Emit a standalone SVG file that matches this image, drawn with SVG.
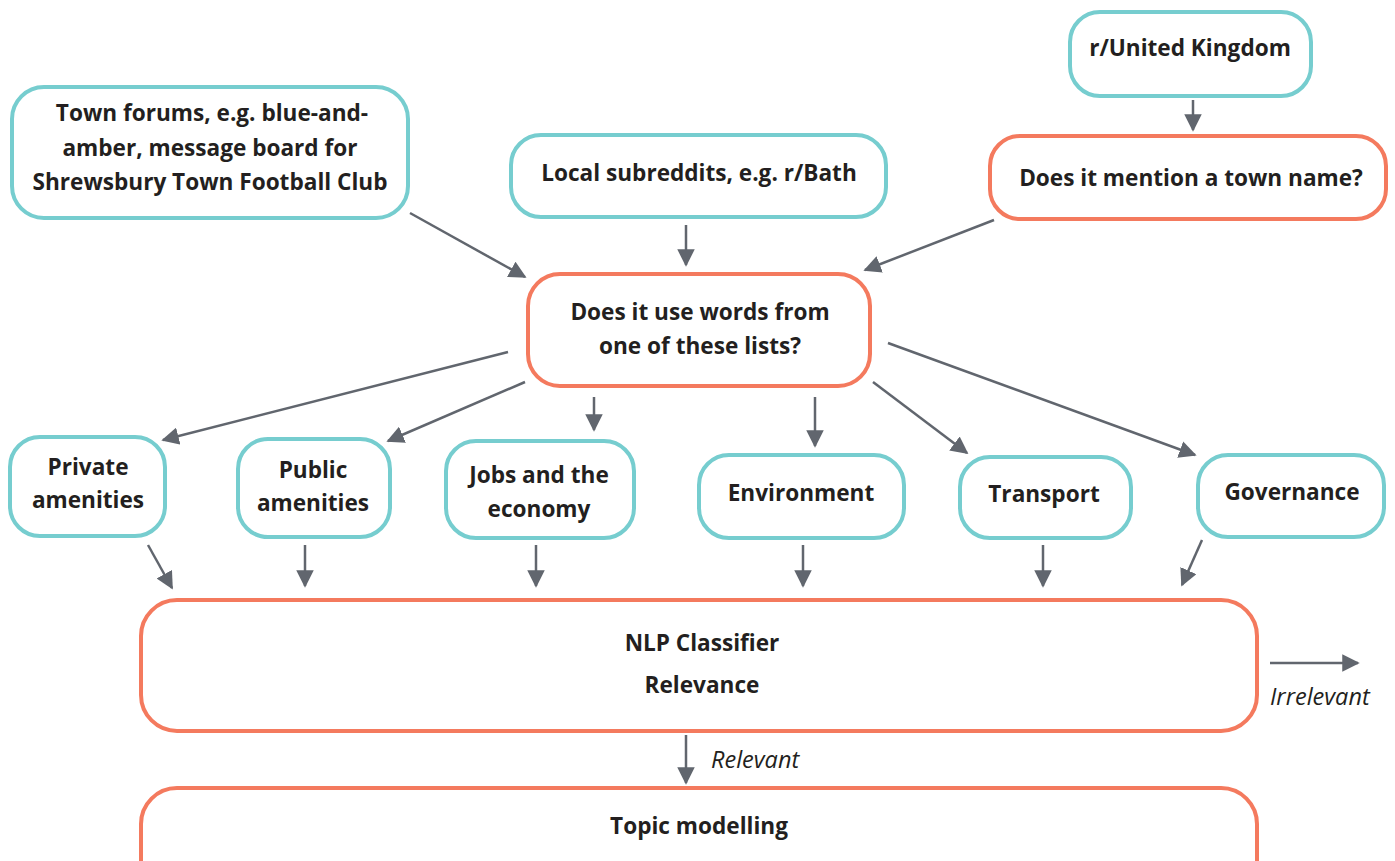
<svg xmlns="http://www.w3.org/2000/svg" width="1395" height="861" viewBox="0 0 1395 861">
<defs>
<marker id="ah" viewBox="0 0 10 10" refX="9" refY="5" markerWidth="7" markerHeight="7" markerUnits="strokeWidth" orient="auto">
<path d="M0,0 L10,5 L0,10 z" fill="#61666e"/>
</marker>
<style>
.t{fill:#fff;stroke:#76cdcf;stroke-width:4}
.o{fill:#fff;stroke:#f47a5e;stroke-width:4}
.lb{font-family:"Open Sans","Noto Sans",sans-serif;font-weight:bold;font-size:22.6px;fill:#231f20;text-anchor:middle}
.it{font-family:"Open Sans","Noto Sans",sans-serif;font-style:italic;font-size:23.5px;fill:#231f20}
.c line{stroke:#61666e;stroke-width:2.5;marker-end:url(#ah)}
</style>
</defs>
<rect width="1395" height="861" fill="#fff"/>
<g id="n-forums"><rect class="t" x="12" y="87" width="396" height="131" rx="32"/>
<text class="lb" x="212" y="121">Town forums, e.g. blue-and-</text>
<text class="lb" x="210" y="156">amber, message board for</text>
<text class="lb" x="210" y="190">Shrewsbury Town Football Club</text></g>
<g id="n-local"><rect class="t" x="511" y="135" width="375" height="82" rx="30"/>
<text class="lb" x="699" y="181">Local subreddits, e.g. r/Bath</text></g>
<g id="n-uk"><rect class="t" x="1070" y="12" width="241" height="84" rx="30"/>
<text class="lb" x="1190" y="56">r/United Kingdom</text></g>
<g id="n-mention"><rect class="o" x="990" y="136" width="396" height="83" rx="30"/>
<text class="lb" x="1191" y="186">Does it mention a town name?</text></g>
<g id="n-words"><rect class="o" x="528" y="274" width="342" height="112" rx="32"/>
<text class="lb" x="700" y="320">Does it use words from</text>
<text class="lb" x="700" y="354">one of these lists?</text></g>
<g id="n-private"><rect class="t" x="10" y="437" width="155" height="99" rx="30"/>
<text class="lb" x="88" y="475">Private</text>
<text class="lb" x="88" y="508">amenities</text></g>
<g id="n-public"><rect class="t" x="238" y="439" width="152" height="98" rx="30"/>
<text class="lb" x="313" y="478">Public</text>
<text class="lb" x="313" y="511">amenities</text></g>
<g id="n-jobs"><rect class="t" x="446" y="441" width="188" height="97" rx="30"/>
<text class="lb" x="539" y="483">Jobs and the</text>
<text class="lb" x="539" y="517">economy</text></g>
<g id="n-env"><rect class="t" x="699" y="455" width="205" height="83" rx="30"/>
<text class="lb" x="801" y="501">Environment</text></g>
<g id="n-transport"><rect class="t" x="960" y="457" width="171" height="81" rx="30"/>
<text class="lb" x="1044" y="502">Transport</text></g>
<g id="n-gov"><rect class="t" x="1198" y="455" width="186" height="82" rx="30"/>
<text class="lb" x="1292" y="500">Governance</text></g>
<g id="n-nlp"><rect class="o" x="141" y="600" width="1116" height="131" rx="36"/>
<text class="lb" x="702" y="651">NLP Classifier</text>
<text class="lb" x="702" y="693">Relevance</text></g>
<g id="n-topic"><rect class="o" x="141" y="788" width="1116" height="110" rx="36"/>
<text class="lb" x="699" y="834">Topic modelling</text></g>
<g id="connectors" class="c">
<line x1="410" y1="213" x2="525" y2="277"/>
<line x1="686" y1="225" x2="686" y2="265"/>
<line x1="1193" y1="100" x2="1193" y2="130"/>
<line x1="994" y1="220" x2="865" y2="270"/>
<line x1="508" y1="352" x2="163" y2="440"/>
<line x1="525" y1="382" x2="388" y2="441"/>
<line x1="594" y1="397" x2="594" y2="430"/>
<line x1="815" y1="397" x2="815" y2="446"/>
<line x1="873" y1="382" x2="967" y2="453"/>
<line x1="888" y1="343" x2="1195" y2="455"/>
<line x1="148" y1="545" x2="172" y2="588"/>
<line x1="305" y1="545" x2="305" y2="586"/>
<line x1="536" y1="545" x2="536" y2="586"/>
<line x1="803" y1="545" x2="803" y2="586"/>
<line x1="1043" y1="545" x2="1043" y2="586"/>
<line x1="1202" y1="540" x2="1182" y2="585"/>
<line x1="1270" y1="663" x2="1358" y2="663"/>
<line x1="686" y1="735" x2="686" y2="783"/>
</g>
<text class="it" x="1270" y="705">Irrelevant</text>
<text class="it" x="711" y="768">Relevant</text>
</svg>
